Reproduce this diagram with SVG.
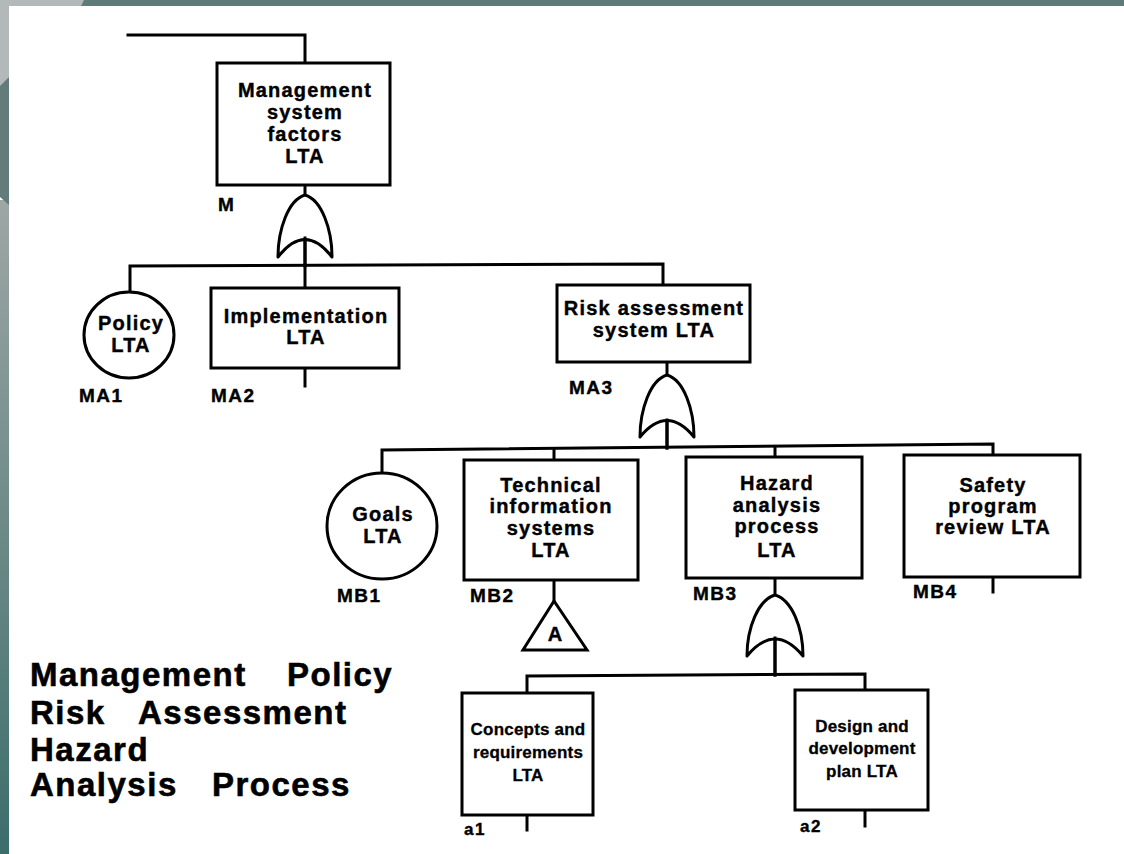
<svg xmlns="http://www.w3.org/2000/svg" width="1124" height="854" viewBox="0 0 1124 854">
  <defs>
    <linearGradient id="sideGrad" x1="0" y1="0" x2="0" y2="1">
      <stop offset="0" stop-color="#9ea7a5"/>
      <stop offset="1" stop-color="#3c6d6b"/>
    </linearGradient>
    <style>
      .box { fill: #ffffff; stroke: #000000; stroke-width: 3; }
      .ln { fill: none; stroke: #000000; stroke-width: 3; stroke-linecap: square; }
      .gate { fill: #ffffff; stroke: #000000; stroke-width: 3; stroke-linejoin: round; }
      .t { font-family: "Liberation Sans", Arial, Helvetica, sans-serif; font-weight: bold; font-size: 20px; letter-spacing: 1.2px; text-anchor: middle; fill: #000000; stroke: #000000; stroke-width: 0.4px; }
      .ts { font-family: "Liberation Sans", Arial, Helvetica, sans-serif; font-weight: bold; font-size: 17px; letter-spacing: 0.2px; text-anchor: middle; fill: #000000; stroke: #000000; stroke-width: 0.3px; }
      .lbl { font-family: "Liberation Sans", Arial, Helvetica, sans-serif; font-weight: bold; font-size: 19px; letter-spacing: 1.5px; fill: #000000; stroke: #000000; stroke-width: 0.4px; }
      .title { font-family: "Liberation Sans", Arial, Helvetica, sans-serif; font-weight: bold; font-size: 33px; letter-spacing: 1.5px; fill: #000000; stroke: #000000; stroke-width: 0.6px; }
    </style>
  </defs>

  <!-- background -->
  <g id="background">
    <rect x="0" y="0" width="1124" height="854" fill="#ffffff"/>
    <rect x="0" y="0" width="1124" height="6" fill="#607a7a"/>
    <rect x="0" y="200" width="9" height="654" fill="url(#sideGrad)"/>
    <polygon points="0,80 9,77 9,205 0,197" fill="#637b7b"/>
    <polygon points="0,0 84,0 81,6 9,6 9,77 0,86" fill="#b3b8b8"/>
  </g>

  <!-- connectors -->
  <g id="connectors">
    <polyline class="ln" points="128,35 305,35 305,63"/>
    <line class="ln" x1="305" y1="185" x2="305" y2="288"/>
    <polyline class="ln" points="130,292 130,266 663,264 663,285"/>
    <line class="ln" x1="305" y1="368" x2="305" y2="386"/>
    <line class="ln" x1="667" y1="362" x2="667" y2="448"/>
    <polyline class="ln" points="382,473 382,450 993,444 993,455"/>
    <line class="ln" x1="554" y1="449" x2="554" y2="460"/>
    <line class="ln" x1="775" y1="447" x2="775" y2="457"/>
    <line class="ln" x1="554" y1="580" x2="554" y2="601"/>
    <line class="ln" x1="775" y1="578" x2="775" y2="675"/>
    <line class="ln" x1="993" y1="577" x2="993" y2="592"/>
    <polyline class="ln" points="527,693 527,676 865,674 865,690"/>
    <line class="ln" x1="527" y1="815" x2="527" y2="830"/>
    <line class="ln" x1="865" y1="810" x2="865" y2="826"/>
  </g>

  <!-- gates -->
  <g id="gate-M">
    <path class="gate" d="M278,257 C278,230 288,200 305,195 C322,200 332,230 332,257 Q305,222 278,257 Z"/>
    <line class="ln" x1="305" y1="238" x2="305" y2="266"/>
  </g>
  <g id="gate-MA3">
    <path class="gate" d="M640,437 C640,410 650,380 667,375 C684,380 694,410 694,437 Q667,404 640,437 Z"/>
    <line class="ln" x1="667" y1="420" x2="667" y2="448"/>
  </g>
  <g id="gate-MB3">
    <path class="gate" d="M747,656 C747,628 758,600 775,595 C792,600 803,628 803,656 Q775,622 747,656 Z"/>
    <line class="ln" x1="775" y1="638" x2="775" y2="675"/>
  </g>

  <!-- nodes -->
  <g id="node-M">
    <rect class="box" x="217" y="63" width="173" height="122"/>
    <text class="t" x="305" y="97">Management</text>
    <text class="t" x="305" y="119">system</text>
    <text class="t" x="305" y="141">factors</text>
    <text class="t" x="305" y="163">LTA</text>
    <text class="lbl" x="218" y="211">M</text>
  </g>

  <g id="node-MA1">
    <ellipse class="box" cx="129" cy="335" rx="45" ry="43"/>
    <text class="t" x="131" y="330">Policy</text>
    <text class="t" x="131" y="352">LTA</text>
    <text class="lbl" x="79" y="402">MA1</text>
  </g>

  <g id="node-MA2">
    <rect class="box" x="211" y="288" width="188" height="80"/>
    <text class="t" x="306" y="323">Implementation</text>
    <text class="t" x="306" y="344">LTA</text>
    <text class="lbl" x="211" y="402">MA2</text>
  </g>

  <g id="node-MA3">
    <rect class="box" x="557" y="285" width="193" height="77"/>
    <text class="t" x="654" y="315">Risk assessment</text>
    <text class="t" x="654" y="337">system LTA</text>
    <text class="lbl" x="569" y="394">MA3</text>
  </g>

  <g id="node-MB1">
    <ellipse class="box" cx="382" cy="526" rx="55" ry="53"/>
    <text class="t" x="383" y="521">Goals</text>
    <text class="t" x="383" y="543">LTA</text>
    <text class="lbl" x="337" y="602">MB1</text>
  </g>

  <g id="node-MB2">
    <rect class="box" x="464" y="460" width="174" height="120"/>
    <text class="t" x="551" y="492">Technical</text>
    <text class="t" x="551" y="513">information</text>
    <text class="t" x="551" y="535">systems</text>
    <text class="t" x="551" y="557">LTA</text>
    <text class="lbl" x="470" y="602">MB2</text>
  </g>

  <g id="node-A">
    <polygon class="box" points="554,601 523,650 587,650"/>
    <text class="t" x="555" y="641" style="letter-spacing:0">A</text>
  </g>

  <g id="node-MB3">
    <rect class="box" x="686" y="457" width="176" height="121"/>
    <text class="t" x="777" y="490">Hazard</text>
    <text class="t" x="777" y="512">analysis</text>
    <text class="t" x="777" y="533">process</text>
    <text class="t" x="777" y="557">LTA</text>
    <text class="lbl" x="693" y="600">MB3</text>
  </g>

  <g id="node-MB4">
    <rect class="box" x="904" y="455" width="176" height="122"/>
    <text class="t" x="993" y="492">Safety</text>
    <text class="t" x="993" y="513">program</text>
    <text class="t" x="993" y="534">review LTA</text>
    <text class="lbl" x="913" y="598">MB4</text>
  </g>

  <g id="node-a1">
    <rect class="box" x="462" y="693" width="131" height="122"/>
    <text class="ts" x="528" y="735">Concepts and</text>
    <text class="ts" x="528" y="758">requirements</text>
    <text class="ts" x="528" y="781">LTA</text>
    <text class="lbl" x="464" y="835" style="font-size:17px">a1</text>
  </g>

  <g id="node-a2">
    <rect class="box" x="795" y="690" width="133" height="120"/>
    <text class="ts" x="862" y="732">Design and</text>
    <text class="ts" x="862" y="754">development</text>
    <text class="ts" x="862" y="777">plan LTA</text>
    <text class="lbl" x="800" y="832" style="font-size:17px">a2</text>
  </g>

  <!-- title -->
  <g id="title">
    <text class="title" x="30" y="686">Management</text>
    <text class="title" x="287" y="686">Policy</text>
    <text class="title" x="30" y="724">Risk</text>
    <text class="title" x="138" y="724">Assessment</text>
    <text class="title" x="30" y="761">Hazard</text>
    <text class="title" x="30" y="796">Analysis</text>
    <text class="title" x="212" y="796">Process</text>
  </g>
</svg>
